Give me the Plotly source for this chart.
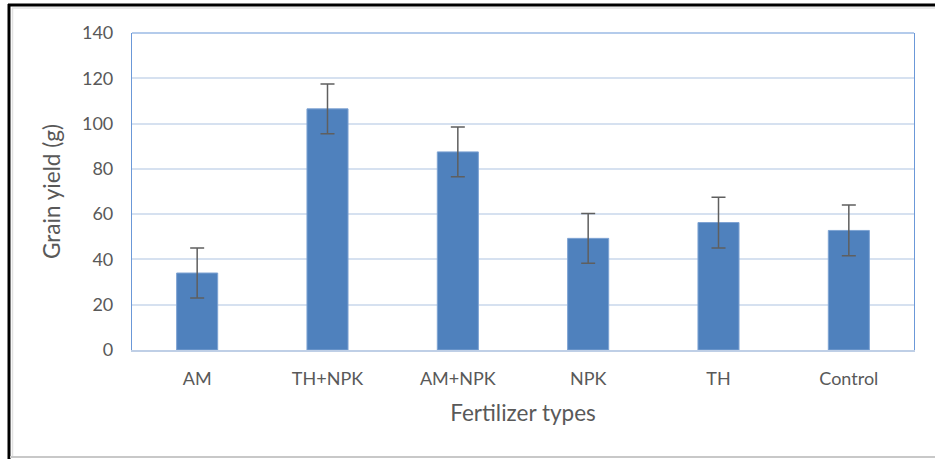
import plotly.graph_objects as go

categories = ["AM", "TH+NPK", "AM+NPK", "NPK", "TH", "Control"]
grain_yield = [34, 106.5, 87.5, 49.3, 56.3, 52.8]
error_sd = [11, 11, 11, 11, 11.2, 11.2]
y_ticks = [0, 20, 40, 60, 80, 100, 120, 140]

FONT = "Lato, Open Sans, sans-serif"
FRAME = "#6B98D8"

fig = go.Figure()
fig.add_trace(go.Bar(
    x=categories, y=grain_yield,
    marker=dict(color="#4F81BD", line=dict(color="#7EA3D3", width=1)),
    error_y=dict(type="data", array=error_sd, visible=True,
                 color="#5F5F5F", thickness=1.5, width=7),
    width=0.315,
))

L, R, T, B = 132, 21, 33, 109
W, H = 935, 459
pw, ph = W - L - R, H - T - B

def px(p):
    return (p - L) / pw

def py(q):
    return (H - B - q) / ph

shapes = [
    # light inner shadow of the frame
    dict(type="line", xref="paper", yref="paper", x0=px(12), x1=px(935), y0=py(8), y1=py(8),
         line=dict(color="#E2E2E2", width=1.5)),
    dict(type="line", xref="paper", yref="paper", x0=px(12.5), x1=px(12.5), y0=py(8), y1=py(456),
         line=dict(color="#E2E2E2", width=1.5)),
    # outer frame
    dict(type="line", xref="paper", yref="paper", x0=px(8), x1=px(935), y0=py(5), y1=py(5),
         line=dict(color="black", width=3)),
    dict(type="line", xref="paper", yref="paper", x0=px(9), x1=px(9), y0=py(4), y1=py(459),
         line=dict(color="black", width=3)),
    dict(type="line", xref="paper", yref="paper", x0=px(10), x1=px(935), y0=py(457), y1=py(457),
         line=dict(color="#C8C8C8", width=2)),
    # top border of plot area
    dict(type="line", xref="paper", yref="paper", x0=0, x1=1, y0=1, y1=1,
         line=dict(color=FRAME, width=1.2)),
]

fig.update_layout(
    width=W, height=H,
    margin=dict(l=L, r=R, t=T, b=B),
    paper_bgcolor="white", plot_bgcolor="white",
    showlegend=False,
    font=dict(family=FONT, color="#595959", size=18),
    shapes=shapes,
    xaxis=dict(
        showline=True, linecolor="#BFCFE6", linewidth=1.5, mirror=False,
        ticks="", tickfont=dict(size=18, color="#595959"), ticklabelstandoff=12,
        title=dict(text="Fertilizer types", font=dict(size=22.5, color="#595959"), standoff=17),
    ),
    yaxis=dict(
        range=[0, 140], tickvals=y_ticks,
        showline=True, linecolor=FRAME, linewidth=1.2, mirror=True,
        showgrid=True, gridcolor="#D6E1F0", gridwidth=2,
        zeroline=False, ticks="", ticklabelstandoff=14,
        tickfont=dict(size=18, color="#595959"),
        title=dict(text="Grain yield (g)", font=dict(size=22.5, color="#595959"), standoff=15),
    ),
)

fig.write_html("out.html", config={"displayModeBar": False},
               post_script="document.body.style.margin='0';")
